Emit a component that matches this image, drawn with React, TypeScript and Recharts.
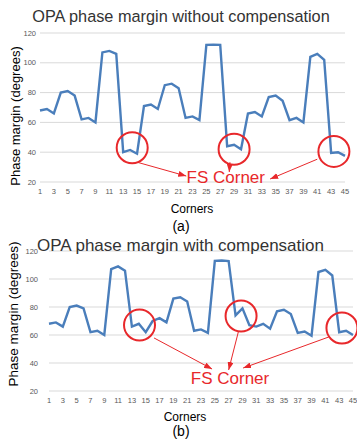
import { LineChart, Line, XAxis, YAxis, CartesianGrid, ReferenceDot, ReferenceLine } from 'recharts';

const corners = [
  1, 2, 3, 4, 5, 6, 7, 8, 9, 10, 11, 12, 13, 14, 15, 16, 17, 18, 19, 20, 21, 22, 23,
  24, 25, 26, 27, 28, 29, 30, 31, 32, 33, 34, 35, 36, 37, 38, 39, 40, 41, 42, 43, 44, 45,
];
const xTicks = [1, 3, 5, 7, 9, 11, 13, 15, 17, 19, 21, 23, 25, 27, 29, 31, 33, 35, 37, 39, 41, 43, 45];
const yTicks = [20, 40, 60, 80, 100, 120];

// phase margin in degrees
const pmWithout = [
  68, 69, 66, 80, 81, 78, 62, 63, 60, 107, 108, 106, 40, 41.5, 39,
  71, 72, 69, 85, 86, 83, 63, 64, 61.5, 112, 112.2, 112, 44, 45, 42,
  66, 67, 64, 77, 78, 74.5, 61.5, 63, 60, 104, 106, 102, 39.5, 40, 37.5,
];
const pmWith = [
  68, 69, 66, 80, 81, 79, 62, 63, 60, 107, 109, 106, 66, 68, 62,
  70, 72, 69, 86, 87, 84, 63, 64, 61.5, 113, 113.2, 112.8, 74, 79, 67,
  66, 68, 64.5, 77, 78, 75, 61.5, 62.5, 59.5, 105, 106.5, 102.5, 62, 63, 60,
];

// FS corner annotations: circle centers, arrows (from -> to), label anchor
const circlesA = [{ x: 14.3, y: 43 }, { x: 29, y: 42 }, { x: 43.4, y: 40.5 }];
const arrowsA = [
  [{ x: 15, y: 33.3 }, { x: 22.1, y: 24 }],
  [{ x: 28.4, y: 33.3 }, { x: 28.3, y: 26.7 }],
  [{ x: 41, y: 35.3 }, { x: 34.2, y: 22 }],
];
const labelA = { x: 27.8, y: 22.7 };

const circlesB = [{ x: 14.1, y: 67.1 }, { x: 28.8, y: 73.6 }, { x: 43.4, y: 65 }];
const arrowsB = [
  [{ x: 16.2, y: 57.9 }, { x: 24.6, y: 35.7 }],
  [{ x: 28.4, y: 62.1 }, { x: 27, y: 35 }],
  [{ x: 41.5, y: 58.6 }, { x: 29.1, y: 36.4 }],
];
const labelB = { x: 27.2, y: 28.6 };

const dataA = corners.map((c, i) => ({ corner: c, pm: pmWithout[i] }));
const dataB = corners.map((c, i) => ({ corner: c, pm: pmWith[i] }));

const FONT = '"Liberation Sans", Arial, sans-serif';
const RED = '#e8282b';
const BLUE = '#4a7ebb';

type Pt = { x: number; y: number };

function PmChart({ data, circles, arrows, label, height, margin, yWidth, yTickMargin }: {
  data: { corner: number; pm: number }[];
  circles: Pt[];
  arrows: Pt[][];
  label: Pt;
  height: number;
  margin: { top: number; right: number; left: number; bottom: number };
  yWidth: number;
  yTickMargin: number;
}) {
  return (
    <LineChart width={357} height={height} data={data} margin={margin}>
      <CartesianGrid vertical={false} stroke="#d9d9d9" />
      <XAxis
        dataKey="corner"
        type="number"
        domain={[1, 45]}
        ticks={xTicks}
        interval={0}
        height={20}
        axisLine={false}
        tickLine={false}
        tickSize={0}
        tickMargin={7}
        tick={{ fontSize: 7.5, fill: '#595959', fontFamily: FONT }}
      />
      <YAxis
        domain={[20, 120]}
        ticks={yTicks}
        width={yWidth}
        axisLine={false}
        tickLine={false}
        tickSize={0}
        tickMargin={yTickMargin}
        tick={{ fontSize: 7.5, fill: '#595959', fontFamily: FONT }}
      />
      <Line
        dataKey="pm"
        type="linear"
        stroke={BLUE}
        strokeWidth={2.4}
        dot={false}
        isAnimationActive={false}
      />
      {circles.map((c, i) => (
        <ReferenceDot
          key={`c${i}`}
          x={c.x}
          y={c.y}
          r={15.5}
          shape={(p: any) => (
            <circle cx={p.cx} cy={p.cy} r={15.5} fill="none" stroke={RED} strokeWidth={2} />
          )}
        />
      ))}
      {arrows.map((a, i) => (
        <ReferenceLine
          key={`a${i}`}
          segment={a}
          shape={(p: any) => (
            <line
              x1={p.x1}
              y1={p.y1}
              x2={p.x2}
              y2={p.y2}
              stroke={RED}
              strokeWidth={1}
              markerEnd="url(#fsArrow)"
            />
          )}
        />
      ))}
      <ReferenceDot
        x={label.x}
        y={label.y}
        r={1}
        shape={(p: any) => (
          <text
            x={p.cx}
            y={p.cy}
            textAnchor="middle"
            dominantBaseline="central"
            fill={RED}
            fontSize={17}
            fontFamily={FONT}
          >
            FS Corner
          </text>
        )}
      />
    </LineChart>
  );
}

export default function App() {
  return (
    <div style={{ position: 'absolute', left: 0, top: 0, width: 357, height: 442, background: '#fff', fontFamily: FONT }}>
      <svg width={0} height={0} style={{ position: 'absolute' }}>
        <defs>
          <marker
            id="fsArrow"
            markerUnits="userSpaceOnUse"
            markerWidth={8}
            markerHeight={6}
            refX={8}
            refY={3}
            orient="auto"
          >
            <path d="M0,0 L8,3 L0,6 Z" fill={RED} />
          </marker>
        </defs>
      </svg>
      <div style={{ position: 'absolute', left: 0, top: 0 }}>
        <PmChart
          data={dataA}
          circles={circlesA}
          arrows={arrowsA}
          label={labelA}
          height={220}
          margin={{ top: 33, right: 12, left: 0, bottom: 18 }}
          yWidth={40}
          yTickMargin={4}
        />
      </div>
      <div style={{ position: 'absolute', left: 0, top: 220 }}>
        <PmChart
          data={dataB}
          circles={circlesB}
          arrows={arrowsB}
          label={labelB}
          height={222}
          margin={{ top: 31, right: 4, left: 0, bottom: 31 }}
          yWidth={49}
          yTickMargin={11}
        />
      </div>
      <svg width={357} height={442} style={{ position: 'absolute', left: 0, top: 0, pointerEvents: 'none' }}>
        <text x={181} y={16} textAnchor="middle" dominantBaseline="central" fontSize={16.3} fill="#333">
          OPA phase margin without compensation
        </text>
        <text x={192} y={209} textAnchor="middle" dominantBaseline="central" fontSize={12} fill="#000">
          Corners
        </text>
        <text x={181} y={226} textAnchor="middle" dominantBaseline="central" fontSize={14} fill="#000">
          (a)
        </text>
        <text
          transform="translate(15,116) rotate(-90)"
          textAnchor="middle"
          dominantBaseline="central"
          fontSize={13}
          fill="#000"
        >
          Phase margin (degrees)
        </text>
        <text x={180.5} y={245} textAnchor="middle" dominantBaseline="central" fontSize={17} fill="#333">
          OPA phase margin with compensation
        </text>
        <text x={185} y={417} textAnchor="middle" dominantBaseline="central" fontSize={12} fill="#000">
          Corners
        </text>
        <text x={181} y={431} textAnchor="middle" dominantBaseline="central" fontSize={14} fill="#000">
          (b)
        </text>
        <text
          transform="translate(13,314) rotate(-90)"
          textAnchor="middle"
          dominantBaseline="central"
          fontSize={13.5}
          fill="#000"
        >
          Phase margin (degrees)
        </text>
      </svg>
    </div>
  );
}
